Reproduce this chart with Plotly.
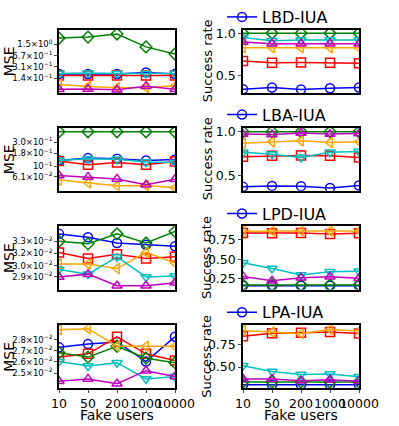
from plotly import graph_objs as go
from plotly.subplots import make_subplots

fake_users = ["10", "50", "200", "1000", "10000"]
methods = ["LBD-IUA", "LBA-IUA", "LPD-IUA", "LPA-IUA"]

# MSE per method (rows), per attacked series
mse_blue = [
    [0.19, 0.19, 0.19, 0.21, 0.19],
    [0.129, 0.144, 0.14, 0.129, 0.135],
    [3.39e-2, 3.35e-2, 3.28e-2, 3.26e-2, 3.24e-2],
    [2.73e-2, 2.76e-2, 2.78e-2, 2.60e-2, 2.83e-2],
]
mse_red = [
    [0.171, 0.171, 0.171, 0.171, 0.171],
    [0.126, 0.106, 0.118, 0.106, 0.123],
    [3.17e-2, 3.10e-2, 3.15e-2, 3.10e-2, 3.12e-2],
    [2.64e-2, 2.67e-2, 2.83e-2, 2.67e-2, 2.61e-2],
]
mse_green = [
    [2.28, 2.45, 3.02, 1.24, 0.76],
    [0.48, 0.48, 0.48, 0.48, 0.48],
    [3.30e-2, 3.27e-2, 3.39e-2, 3.28e-2, 3.42e-2],
    [2.68e-2, 2.64e-2, 2.74e-2, 2.63e-2, 2.59e-2],
]
mse_orange = [
    [0.092, 0.08, 0.074, 0.075, 0.085],
    [0.053, 0.0466, 0.0407, 0.041, 0.037],
    [3.04e-2, 3.04e-2, 2.99e-2, 3.17e-2, 3.05e-2],
    [2.90e-2, 2.91e-2, 2.74e-2, 2.74e-2, 2.74e-2],
]
mse_cyan = [
    [0.197, 0.205, 0.197, 0.197, 0.197],
    [0.129, 0.14, 0.136, 0.12, 0.118],
    [2.98e-2, 2.93e-2, 3.12e-2, 2.90e-2, 2.91e-2],
    [2.60e-2, 2.56e-2, 2.59e-2, 2.45e-2, 2.47e-2],
]
mse_magenta = [
    [0.066, 0.068, 0.064, 0.082, 0.066],
    [0.065, 0.061, 0.0557, 0.0425, 0.055],
    [2.90e-2, 2.93e-2, 2.81e-2, 2.81e-2, 2.84e-2],
    [2.43e-2, 2.45e-2, 2.41e-2, 2.52e-2, 2.47e-2],
]

# Success rate per method
sr_blue = [
    [0.344, 0.363, 0.34, 0.356, 0.363],
    [0.372, 0.383, 0.38, 0.36, 0.388],
    [0.16, 0.16, 0.16, 0.16, 0.16],
    [0.30, 0.30, 0.30, 0.30, 0.30],
]
sr_red = [
    [0.675, 0.652, 0.655, 0.652, 0.648],
    [0.714, 0.726, 0.73, 0.726, 0.707],
    [0.834, 0.83, 0.835, 0.82, 0.83],
    [0.85, 0.884, 0.888, 0.896, 0.881],
]
sr_green = [
    [1.0, 1.0, 1.0, 1.0, 1.0],
    [1.0, 1.0, 1.0, 1.0, 1.0],
    [0.17, 0.17, 0.17, 0.17, 0.17],
    [0.33, 0.33, 0.33, 0.33, 0.33],
]
sr_orange = [
    [0.83, 0.83, 0.83, 0.83, 0.83],
    [0.87, 0.885, 0.896, 0.877, 0.885],
    [0.855, 0.86, 0.86, 0.86, 0.86],
    [0.915, 0.896, 0.877, 0.926, 0.907],
]
sr_cyan = [
    [0.95, 0.91, 0.92, 0.92, 0.92],
    [0.767, 0.744, 0.707, 0.767, 0.775],
    [0.453, 0.38, 0.297, 0.34, 0.345],
    [0.515, 0.45, 0.414, 0.42, 0.39],
]
sr_magenta = [
    [0.895, 0.875, 0.875, 0.875, 0.875],
    [0.973, 0.97, 0.985, 0.973, 0.98],
    [0.28, 0.225, 0.262, 0.274, 0.255],
    [0.365, 0.365, 0.343, 0.355, 0.34],
]

mse_tickvals = [
    [1.5, 0.67, 0.31, 0.14],
    [0.30, 0.18, 0.10, 0.061],
    [0.033, 0.0316, 0.0302, 0.029],
    [0.028, 0.027, 0.026, 0.025],
]
mse_ticktext = [
    ["1.5×10<sup>0</sup>", "6.7×10<sup>−1</sup>", "3.1×10<sup>−1</sup>", "1.4×10<sup>−1</sup>"],
    ["3.0×10<sup>−1</sup>", "1.8×10<sup>−1</sup>", "10<sup>−1</sup>", "6.1×10<sup>−2</sup>"],
    ["3.3×10<sup>−2</sup>", "3.2×10<sup>−2</sup>", "3.0×10<sup>−2</sup>", "2.9×10<sup>−2</sup>"],
    ["2.8×10<sup>−2</sup>", "2.7×10<sup>−2</sup>", "2.6×10<sup>−2</sup>", "2.5×10<sup>−2</sup>"],
]
sr_tickvals = [[0.5, 1.0], [0.5, 1.0], [0.25, 0.5, 0.75], [0.5, 0.75]]
sr_ticktext = [["0.5", "1.0"], ["0.5", "1.0"], ["0.25", "0.50", "0.75"], ["0.50", "0.75"]]

mse_ranges = [[-1.29, 0.61], [-1.49, -0.235], [-1.5575, -1.458], [-1.625, -1.531]]
sr_ranges = [[0.30, 1.04], [0.327, 1.048], [0.111, 0.918], [0.257, 0.974]]

series = [
    ("blue", "circle-open", mse_blue, sr_blue),
    ("red", "square-open", mse_red, sr_red),
    ("green", "diamond-open", mse_green, sr_green),
    ("orange", "triangle-left-open", mse_orange, sr_orange),
    ("#00BFBF", "triangle-down-open", mse_cyan, sr_cyan),
    ("#BF00BF", "triangle-up-open", mse_magenta, sr_magenta),
]

W, H = 399, 426
FONT = "DejaVu Sans"

fig = make_subplots(rows=4, cols=2)

row_tops = [25, 124, 224, 324]
row_h = 64
left_x = [59, 175]
right_x = [243, 359]

annotations = []
for r in range(4):
    for color, symbol, mse, sr in series:
        fig.add_trace(go.Scatter(
            x=fake_users, y=mse[r], mode="lines+markers",
            line=dict(color=color, width=1.5),
            marker=dict(symbol=symbol, size=9, color=color, line=dict(width=1.5, color=color)),
            showlegend=False,
        ), row=r + 1, col=1)
        fig.add_trace(go.Scatter(
            x=fake_users, y=sr[r], mode="lines+markers",
            line=dict(color=color, width=1.5),
            marker=dict(symbol=symbol, size=9, color=color, line=dict(width=1.5, color=color)),
            name=methods[r],
            showlegend=(color == "blue"),
            legend="legend" if r == 0 else "legend%d" % (r + 1),
        ), row=r + 1, col=2)

    top, bot = row_tops[r], row_tops[r] + row_h
    ydom = [1 - bot / H, 1 - top / H]
    il = 2 * r + 1
    ir = 2 * r + 2
    last = r == 3
    xcommon = dict(type="category", range=[0, 4], showline=True, mirror=True, linecolor="black",
                   linewidth=1.5, showgrid=False, zeroline=False, automargin=False,
                   showticklabels=last, ticks="outside" if last else "", ticklen=3,
                   tickangle=0,
                   tickfont=dict(family=FONT, size=12.5, color="black"))
    fig.update_layout({
        "xaxis%d" % il: dict(domain=[left_x[0] / W, left_x[1] / W], **xcommon),
        "xaxis%d" % ir: dict(domain=[right_x[0] / W, right_x[1] / W], **xcommon),
        "yaxis%d" % il: dict(domain=ydom, type="log", range=mse_ranges[r],
                             tickvals=mse_tickvals[r], ticktext=mse_ticktext[r],
                             showline=True, mirror=True, linecolor="black", linewidth=1.5,
                             showgrid=False, zeroline=False, ticks="outside", ticklen=3,
                             automargin=False,
                             tickfont=dict(family=FONT, size=8.5, color="black")),
        "yaxis%d" % ir: dict(domain=ydom, range=sr_ranges[r],
                             tickvals=sr_tickvals[r], ticktext=sr_ticktext[r],
                             showline=True, mirror=True, linecolor="black", linewidth=1.5,
                             showgrid=False, zeroline=False, ticks="outside", ticklen=3,
                             automargin=False,
                             tickfont=dict(family=FONT, size=12.5, color="black")),
    })
    legend_key = "legend" if r == 0 else "legend%d" % (r + 1)
    fig.update_layout({legend_key: dict(
        x=222 / W, y=1 - (top - 13) / H, xanchor="left", yanchor="middle",
        bgcolor="rgba(0,0,0,0)", font=dict(family=FONT, size=16, color="black"),
        borderwidth=0, tracegroupgap=0,
    )})

    cy = 1 - (top + row_h / 2) / H
    annotations.append(dict(xref="paper", yref="paper", x=9 / W, y=cy, text="MSE",
                            textangle=-90, showarrow=False, xanchor="center", yanchor="middle",
                            font=dict(family=FONT, size=14, color="black")))
    annotations.append(dict(xref="paper", yref="paper", x=207 / W, y=cy, text="Success rate",
                            textangle=-90, showarrow=False, xanchor="center", yanchor="middle",
                            font=dict(family=FONT, size=13, color="black")))

for cx in [117, 301]:
    annotations.append(dict(xref="paper", yref="paper", x=cx / W, y=1 - 415 / H, text="Fake users",
                            showarrow=False, xanchor="center", yanchor="middle",
                            font=dict(family=FONT, size=14, color="black")))

fig.update_layout(
    width=W, height=H, margin=dict(l=0, r=0, t=0, b=0),
    plot_bgcolor="white", paper_bgcolor="white",
    annotations=annotations,
)

# the page's default body margin would shift the figure by 8px
fig.write_html("out.html", config={"displayModeBar": False},
               post_script="document.body.style.margin='0px';")
